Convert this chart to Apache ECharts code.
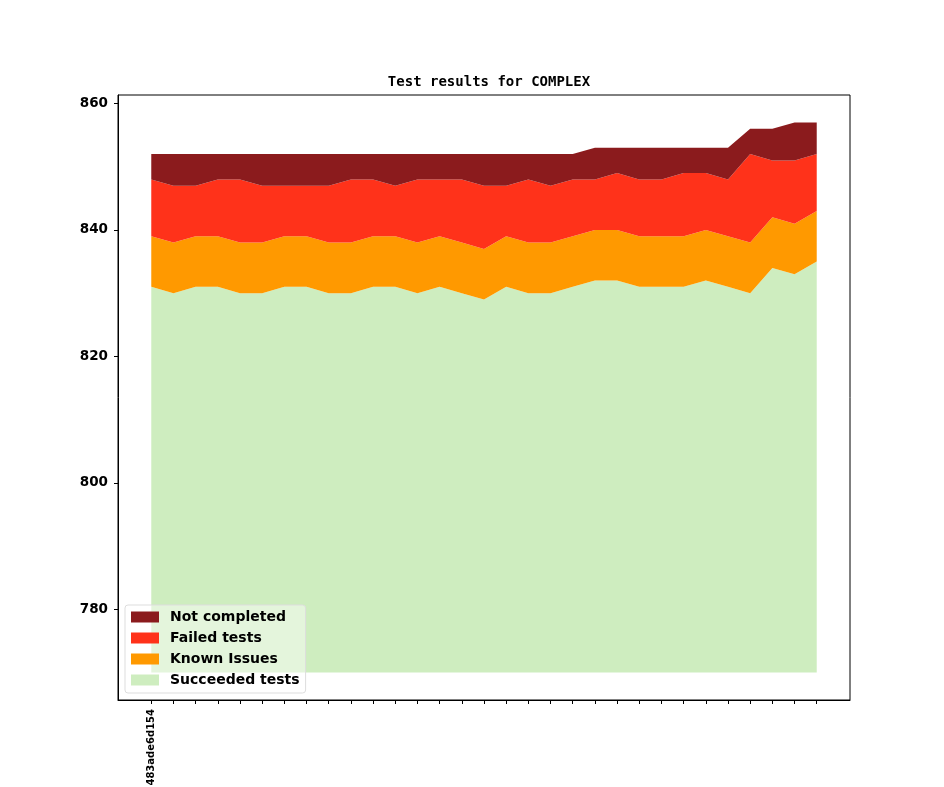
<!DOCTYPE html>
<html>
<head>
<meta charset="utf-8">
<script src="https://cdn.jsdelivr.net/npm/echarts@6/dist/echarts.min.js"></script>
<style>
  html, body { margin: 0; padding: 0; background: #fff; }
  #chart { width: 944px; height: 787px; }
</style>
</head>
<body>
<div id="chart"></div>
<script>
// only the first commit carries a label
const commits = ['483ade6d154', '', '', '', '', '', '', '', '', '', '', '', '', '', '', '',
  '', '', '', '', '', '', '', '', '', '', '', '', '', '', '']

const succeeded = [831, 830, 831, 831, 830, 830, 831, 831, 830, 830, 831, 831, 830, 831, 830, 829,
  831, 830, 830, 831, 832, 832, 831, 831, 831, 832, 831, 830, 834, 833, 835]
const knownIssues = [8, 8, 8, 8, 8, 8, 8, 8, 8, 8, 8, 8, 8, 8, 8, 8,
  8, 8, 8, 8, 8, 8, 8, 8, 8, 8, 8, 8, 8, 8, 8]
const failed = [9, 9, 8, 9, 10, 9, 8, 8, 9, 10, 9, 8, 10, 9, 10, 10,
  8, 10, 9, 9, 8, 9, 9, 9, 10, 9, 9, 14, 9, 10, 9]
const notCompleted = [4, 5, 5, 4, 4, 5, 5, 5, 5, 4, 4, 5, 4, 4, 4, 5,
  5, 4, 5, 4, 5, 4, 5, 5, 4, 4, 5, 4, 5, 6, 5]

const yTicks = [780, 800, 820, 840, 860]
const baseline = 770

// matplotlib leaves 1.5 steps of margin each side: pad with one empty
// category at both ends and put points at band centres
const pad = arr => [null].concat(arr, [null])
const categories = pad(commits).map(c => c == null ? '' : c)

const font = 'DejaVu Sans'

function area(name, data, color, extra) {
  return Object.assign({
    name: name,
    type: 'line',
    stack: 'total',
    data: pad(data),
    color: color,
    showSymbol: false,
    symbol: 'none',
    lineStyle: {width: 0},
    areaStyle: {color: color, opacity: 1},
    silent: true,
  }, extra || {})
}

const chart = echarts.init(document.getElementById('chart'))
chart.setOption({
  animation: false,
  title: {
    text: 'Test results for COMPLEX',
    left: 484,
    textAlign: 'center',
    top: 70,
    textStyle: {fontFamily: 'DejaVu Sans Mono', fontWeight: 'bold', fontSize: 14, color: '#000'},
  },
  grid: {
    left: 118,
    right: 94,
    top: 95,
    bottom: 87,
    outerBoundsMode: 'none',
    show: true,
    borderColor: '#000',
    borderWidth: 1,
    backgroundColor: 'transparent',
  },
  legend: {
    data: ['Not completed', 'Failed tests', 'Known Issues', 'Succeeded tests'],
    orient: 'vertical',
    left: 125,
    top: 605,
    icon: 'rect',
    itemWidth: 28,
    itemHeight: 11,
    itemGap: 7,
    padding: [5, 6, 6, 6],
    backgroundColor: 'rgba(255,255,255,0.45)',
    borderColor: '#dddddd',
    borderWidth: 1,
    borderRadius: 3,
    textStyle: {fontFamily: font, fontWeight: 'bold', fontSize: 14, color: '#000', padding: [0, 0, 0, 6]},
  },
  xAxis: {
    type: 'category',
    data: categories,
    boundaryGap: true,
    axisLine: {show: true, onZero: false, lineStyle: {color: '#000', width: 1}},
    axisTick: {
      show: true,
      length: 4,
      alignWithLabel: true,
      interval: idx => idx > 0 && idx < categories.length - 1,
      lineStyle: {color: '#000'},
    },
    axisLabel: {
      interval: 0,
      rotate: 90,
      margin: 9,
      fontFamily: font,
      fontWeight: 'bold',
      fontSize: 10,
      color: '#000',
    },
    splitLine: {show: false},
  },
  yAxis: {
    type: 'value',
    min: 765.65,
    max: 861.35,
    axisLine: {show: true, onZero: false, lineStyle: {color: '#000', width: 1}},
    axisTick: {show: true, length: 4, customValues: yTicks, lineStyle: {color: '#000'}},
    axisLabel: {
      customValues: yTicks,
      margin: 10,
      fontFamily: font,
      fontWeight: 'bold',
      fontSize: 13.5,
      color: '#000',
    },
    splitLine: {show: false},
  },
  series: [
    area('Succeeded tests', succeeded, '#ceedbf', {areaStyle: {color: '#ceedbf', opacity: 1, origin: baseline}}),
    area('Known Issues', knownIssues, '#ff9900'),
    area('Failed tests', failed, '#ff321a'),
    area('Not completed', notCompleted, '#8b1b1d'),
  ],
})
</script>
</body>
</html>
